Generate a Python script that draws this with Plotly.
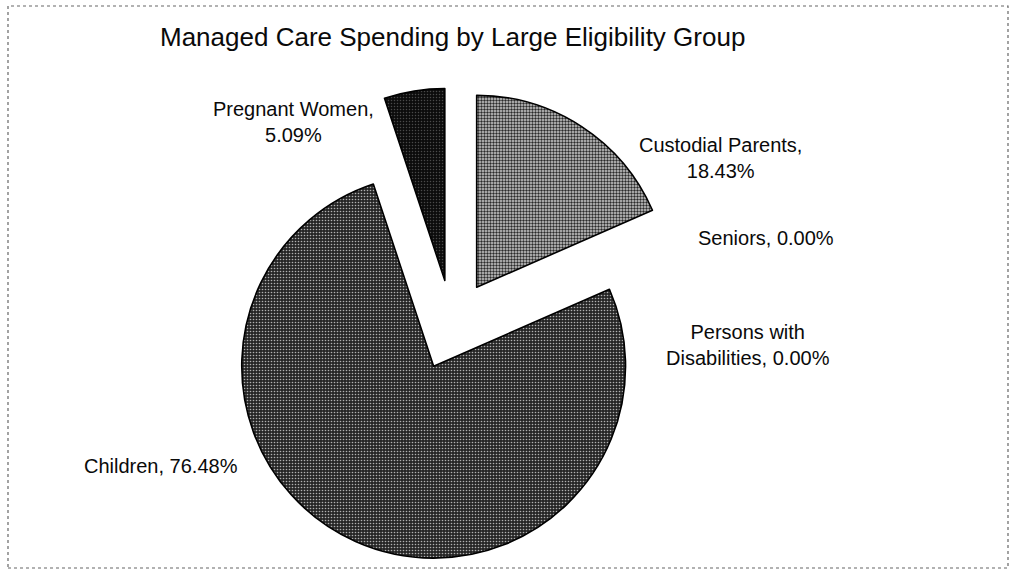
import plotly.graph_objects as go

# ---- data ----
groups = ["Custodial Parents", "Seniors", "Persons with Disabilities", "Children", "Pregnant Women"]
shares = [18.43, 0.00, 0.00, 76.48, 5.09]
title_text = "Managed Care Spending by Large Eligibility Group"

# ---- styling / layout helpers (not data) ----
W, H = 1012, 572
pull_amt = 0.235
label_lines = {  # how each label is broken into lines
    "Custodial Parents": "Custodial Parents,<br>{v}",
    "Seniors": "Seniors, {v}",
    "Persons with Disabilities": "Persons with<br>Disabilities, {v}",
    "Children": "Children, {v}",
    "Pregnant Women": "Pregnant Women,<br>{v}",
}
label_pos = {  # pixel centre of each label block
    "Custodial Parents": (720, 158),
    "Seniors": (766, 238),
    "Persons with Disabilities": (748, 345),
    "Children": (161, 466),
    "Pregnant Women": (293, 122),
}
patterns = {
    "Custodial Parents": dict(shape=".", bgcolor="#cfcfcf", fgcolor="#2a2a2a", size=3, solidity=0.5),
    "Seniors": dict(shape=".", bgcolor="#ffffff", fgcolor="#000000", size=3, solidity=0.3),
    "Persons with Disabilities": dict(shape=".", bgcolor="#ffffff", fgcolor="#000000", size=3, solidity=0.3),
    "Children": dict(shape=".", bgcolor="#262626", fgcolor="#b0b0b0", size=3, solidity=0.23),
    "Pregnant Women": dict(shape=".", bgcolor="#0c0c0c", fgcolor="#4a4a4a", size=3, solidity=0.2),
}

pat = dict(
    shape=[patterns[g]["shape"] for g in groups],
    bgcolor=[patterns[g]["bgcolor"] for g in groups],
    fgcolor=[patterns[g]["fgcolor"] for g in groups],
    size=[patterns[g]["size"] for g in groups],
    solidity=[patterns[g]["solidity"] for g in groups],
)
# no outline on empty (0%) slices
line_widths = [1.6 if v > 0 else 0 for v in shares]

cx, cy, R = 452, 325, 237  # R = radius incl. pull
fig = go.Figure(go.Pie(
    labels=groups,
    values=shares,
    sort=False,
    direction="clockwise",
    rotation=0,
    pull=[pull_amt if v > 0 else 0 for v in shares],
    textinfo="none",
    hoverinfo="label+percent",
    marker=dict(
        colors=[patterns[g]["bgcolor"] for g in groups],
        line=dict(color="#000000", width=line_widths),
        pattern=pat,
    ),
    domain=dict(x=[(cx - R) / W, (cx + R) / W], y=[1 - (cy + R) / H, 1 - (cy - R) / H]),
    showlegend=False,
))

annotations = []
for g, v in zip(groups, shares):
    px, py = label_pos[g]
    annotations.append(dict(
        text=label_lines[g].format(v=f"{v:.2f}%"),
        x=px / W, y=1 - py / H, xref="paper", yref="paper",
        xanchor="center", yanchor="middle", showarrow=False,
        font=dict(family="Liberation Sans, Arial", size=20, color="#0a0a0a"),
        align="center",
    ))
annotations.append(dict(
    text=title_text, x=452 / W, y=1 - 37 / H, xref="paper", yref="paper",
    xanchor="center", yanchor="middle", showarrow=False,
    font=dict(family="Liberation Sans, Arial", size=26, color="#0a0a0a"),
))

fig.update_layout(
    width=W, height=H,
    margin=dict(l=0, r=0, t=0, b=0),
    paper_bgcolor="#ffffff",
    plot_bgcolor="#ffffff",
    annotations=annotations,
    shapes=[dict(type="rect", xref="paper", yref="paper",
                 x0=8 / W, x1=1008 / W, y0=1 - 568 / H, y1=1 - 6 / H,
                 line=dict(color="#666666", width=1.2, dash="dot"))],
)

fig.write_html("out.html")
